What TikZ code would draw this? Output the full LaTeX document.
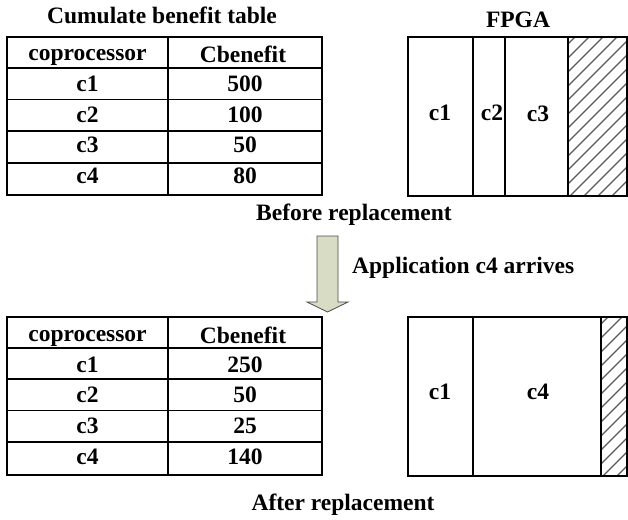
\documentclass[tikz,border=0pt]{standalone}
\usepackage{fontspec}
\setmainfont{Liberation Serif}
\begin{document}
\begin{tikzpicture}[x=1pt,y=-1pt,
  lbl/.style={font=\fontsize{23.5}{26}\bfseries\selectfont, inner sep=0pt, anchor=base},
  frame/.style={line width=1.4pt, draw=black},
  hatch/.style={draw=black!65, line width=1.1pt},
  bigarrow/.style={draw=black!70, line width=0.8pt, fill={rgb,255:red,216;green,220;blue,196}}]
\useasboundingbox (0,0) rectangle (628,519);

% ---------- table before replacement ----------
\node[lbl] (ttl) at (162,24) {Cumulate benefit table};
\draw[frame] (7,37) rectangle (322,195);
\foreach \y in {68,99.5,131,163} \draw[frame] (7,\y) -- (322,\y);
\draw[frame] (168,37) -- (168,195);
\node[lbl] (h1) at (87.5,60) {coprocessor};
\node[lbl] (h2) at (243,63) {Cbenefit};
\foreach \n/\y/\v in {1/91/500,2/122/100,3/152.5/50,4/183.5/80}{
  \node[lbl] (ra\n) at (87.5,\y) {c\n};
  \node[lbl] (va\n) at (245,\y) {\v};
}

% ---------- FPGA before replacement ----------
\node[lbl] (fpga) at (518,28) {FPGA};
\begin{scope}
  \clip (568,37) rectangle (627,196);
  \foreach \k in {0,...,16} \draw[hatch] (568+14*\k-180,196+0) -- (568+14*\k,16);
\end{scope}
\draw[frame] (408,37) rectangle (627,196);
\draw[frame] (473,37) -- (473,196);
\draw[frame] (505,37) -- (505,196);
\draw[frame] (568,37) -- (568,196);
\node[lbl] (fa1) at (440,120) {c1};
\node[lbl] (fa2) at (492,120) {c2};
\node[lbl] (fa3) at (538,121) {c3};

\node[lbl] (before) at (354,220) {Before replacement};

% ---------- transition arrow ----------
\draw[bigarrow] (317,236) -- (338,236) -- (338,302) -- (348,302) -- (327.5,312)
  -- (307,302) -- (317,302) -- cycle;
\node[lbl, anchor=base west] (app) at (352,273) {Application c4 arrives};

% ---------- table after replacement ----------
\draw[frame] (7,317) rectangle (322,475);
\foreach \y in {348,379,410.5,442} \draw[frame] (7,\y) -- (322,\y);
\draw[frame] (168,317) -- (168,475);
\node[lbl] (hb1) at (87.5,341) {coprocessor};
\node[lbl] (hb2) at (243,343) {Cbenefit};
\foreach \n/\y/\v in {1/372/250,2/402.5/50,3/433/25,4/464/140}{
  \node[lbl] (rb\n) at (87.5,\y) {c\n};
  \node[lbl] (vb\n) at (245,\y) {\v};
}

% ---------- FPGA after replacement ----------
\begin{scope}
  \clip (601,317) rectangle (627,476);
  \foreach \k in {0,...,14} \draw[hatch] (601+14*\k-180,476) -- (601+14*\k,296);
\end{scope}
\draw[frame] (408,317) rectangle (627,476);
\draw[frame] (473,317) -- (473,476);
\draw[frame] (601,317) -- (601,476);
\node[lbl] (fb1) at (440,399) {c1};
\node[lbl] (fb4) at (538,399) {c4};

\node[lbl] (after) at (343,510) {After replacement};
\end{tikzpicture}
\end{document}
